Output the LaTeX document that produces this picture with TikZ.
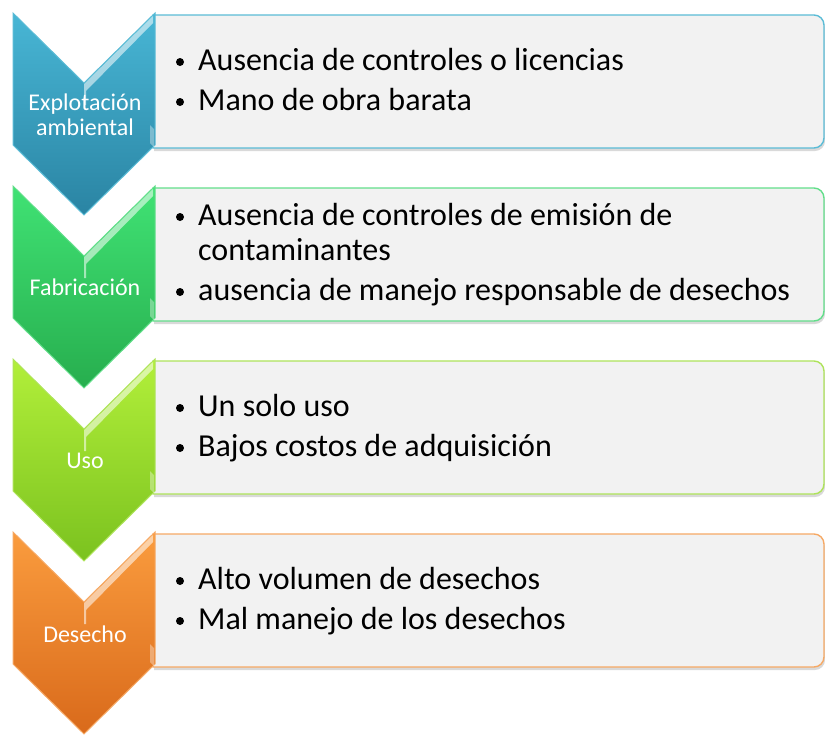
\documentclass[tikz,border=0pt]{standalone}
\usepackage{fontspec}
\setmainfont{Carlito}
\usetikzlibrary{shadows}
\definecolor{boxfill}{HTML}{F2F2F2}
\definecolor{cAtop}{HTML}{48B6D5}\definecolor{cAbot}{HTML}{2A84A3}\definecolor{cAbrd}{HTML}{5BBCD6}
\definecolor{cBtop}{HTML}{40E274}\definecolor{cBbot}{HTML}{27AE4E}\definecolor{cBbrd}{HTML}{62DE8A}
\definecolor{cCtop}{HTML}{B2EF3A}\definecolor{cCbot}{HTML}{7BC21F}\definecolor{cCbrd}{HTML}{AEE35A}
\definecolor{cDtop}{HTML}{FA9C3E}\definecolor{cDbot}{HTML}{D96A1B}\definecolor{cDbrd}{HTML}{F6A965}
\tikzset{
  boxstyle/.style={fill=boxfill, line width=1.4pt,
    drop shadow={opacity=0.3, shadow xshift=1pt, shadow yshift=-3pt}},
  chevstyle/.style={line width=1pt},
  glint/.style={fill=white, opacity=0.55, draw=none},
  chevlabel/.style={text=white, font=\fontsize{24}{25}\selectfont, align=center, inner sep=0pt, anchor=base},
  itemtext/.style={anchor=base west, font=\fontsize{32}{35}\selectfont, inner sep=0pt},
  bulletdot/.style={circle, fill=black, inner sep=0pt, minimum size=8pt}
}
% #1 top of box (px), #2 border colour
\newcommand\stagebox[2]{%
  \draw[boxstyle, draw=#2] (153,-#1) -- (814,-#1) arc[start angle=90,end angle=0,radius=10]
    -- (824,-#1-123) arc[start angle=0,end angle=-90,radius=10] -- (153,-#1-133) -- cycle;}
% #1 top of chevron, #2 top colour, #3 bottom colour, #4 border
\newcommand\stagechev[4]{%
  \draw[chevstyle, draw=#4, top color=#2, bottom color=#3]
    (13,-#1) -- (84,-#1-70) -- (155,-#1) -- (155,-#1-132) -- (84,-#1-202) -- (13,-#1-132) -- cycle;
  \fill[glint] (84,-#1-71) -- (153,-#1-3) -- (153,-#1-10) -- (86,-#1-78) -- (86,-#1-92) -- (84,-#1-92) -- cycle;
  \fill[white, opacity=0.35] (150,-#1-112) -- (154,-#1-116) -- (154,-#1-134) -- (150,-#1-130) -- cycle;}
\begin{document}
\begin{tikzpicture}[x=1pt,y=1pt]
\useasboundingbox (0,0) rectangle (825,-734);
% boxes
\stagebox{15}{cAbrd}
\stagebox{188}{cBbrd}
\stagebox{361}{cCbrd}
\stagebox{534}{cDbrd}
% chevrons
\stagechev{13}{cAtop}{cAbot}{cAbrd}
\stagechev{186}{cBtop}{cBbot}{cBbrd}
\stagechev{359}{cCtop}{cCbot}{cCbrd}
\stagechev{532}{cDtop}{cDbot}{cDbrd}
% chevron labels
\node[chevlabel] (l1) at (85,-135) {Explotación\\ambiental};
\node[chevlabel] (l2) at (85,-295) {Fabricación};
\node[chevlabel] (l3) at (85,-468) {Uso};
\node[chevlabel] (l4) at (85,-642) {Desecho};
% items stage 1
\node[bulletdot] (b1a) at (180,-62) {};
\node[itemtext] (t1a) at (198,-70) {Ausencia de controles o licencias};
\node[bulletdot] (b1b) at (180,-102) {};
\node[itemtext] (t1b) at (198,-110) {Mano de obra barata};
% items stage 2
\node[bulletdot] (b2a) at (180,-217) {};
\node[itemtext] (t2a) at (198,-225) {Ausencia de controles de emisión de};
\node[itemtext] (t2b) at (198,-260) {contaminantes};
\node[bulletdot] (b2c) at (180,-292) {};
\node[itemtext] (t2c) at (198,-300) {ausencia de manejo responsable de desechos};
% items stage 3
\node[bulletdot] (b3a) at (180,-408) {};
\node[itemtext] (t3a) at (198,-416) {Un solo uso};
\node[bulletdot] (b3b) at (180,-448) {};
\node[itemtext] (t3b) at (198,-456) {Bajos costos de adquisición};
% items stage 4
\node[bulletdot] (b4a) at (180,-581) {};
\node[itemtext] (t4a) at (198,-589) {Alto volumen de desechos};
\node[bulletdot] (b4b) at (180,-621) {};
\node[itemtext] (t4b) at (198,-629) {Mal manejo de los desechos};
\end{tikzpicture}
\end{document}
